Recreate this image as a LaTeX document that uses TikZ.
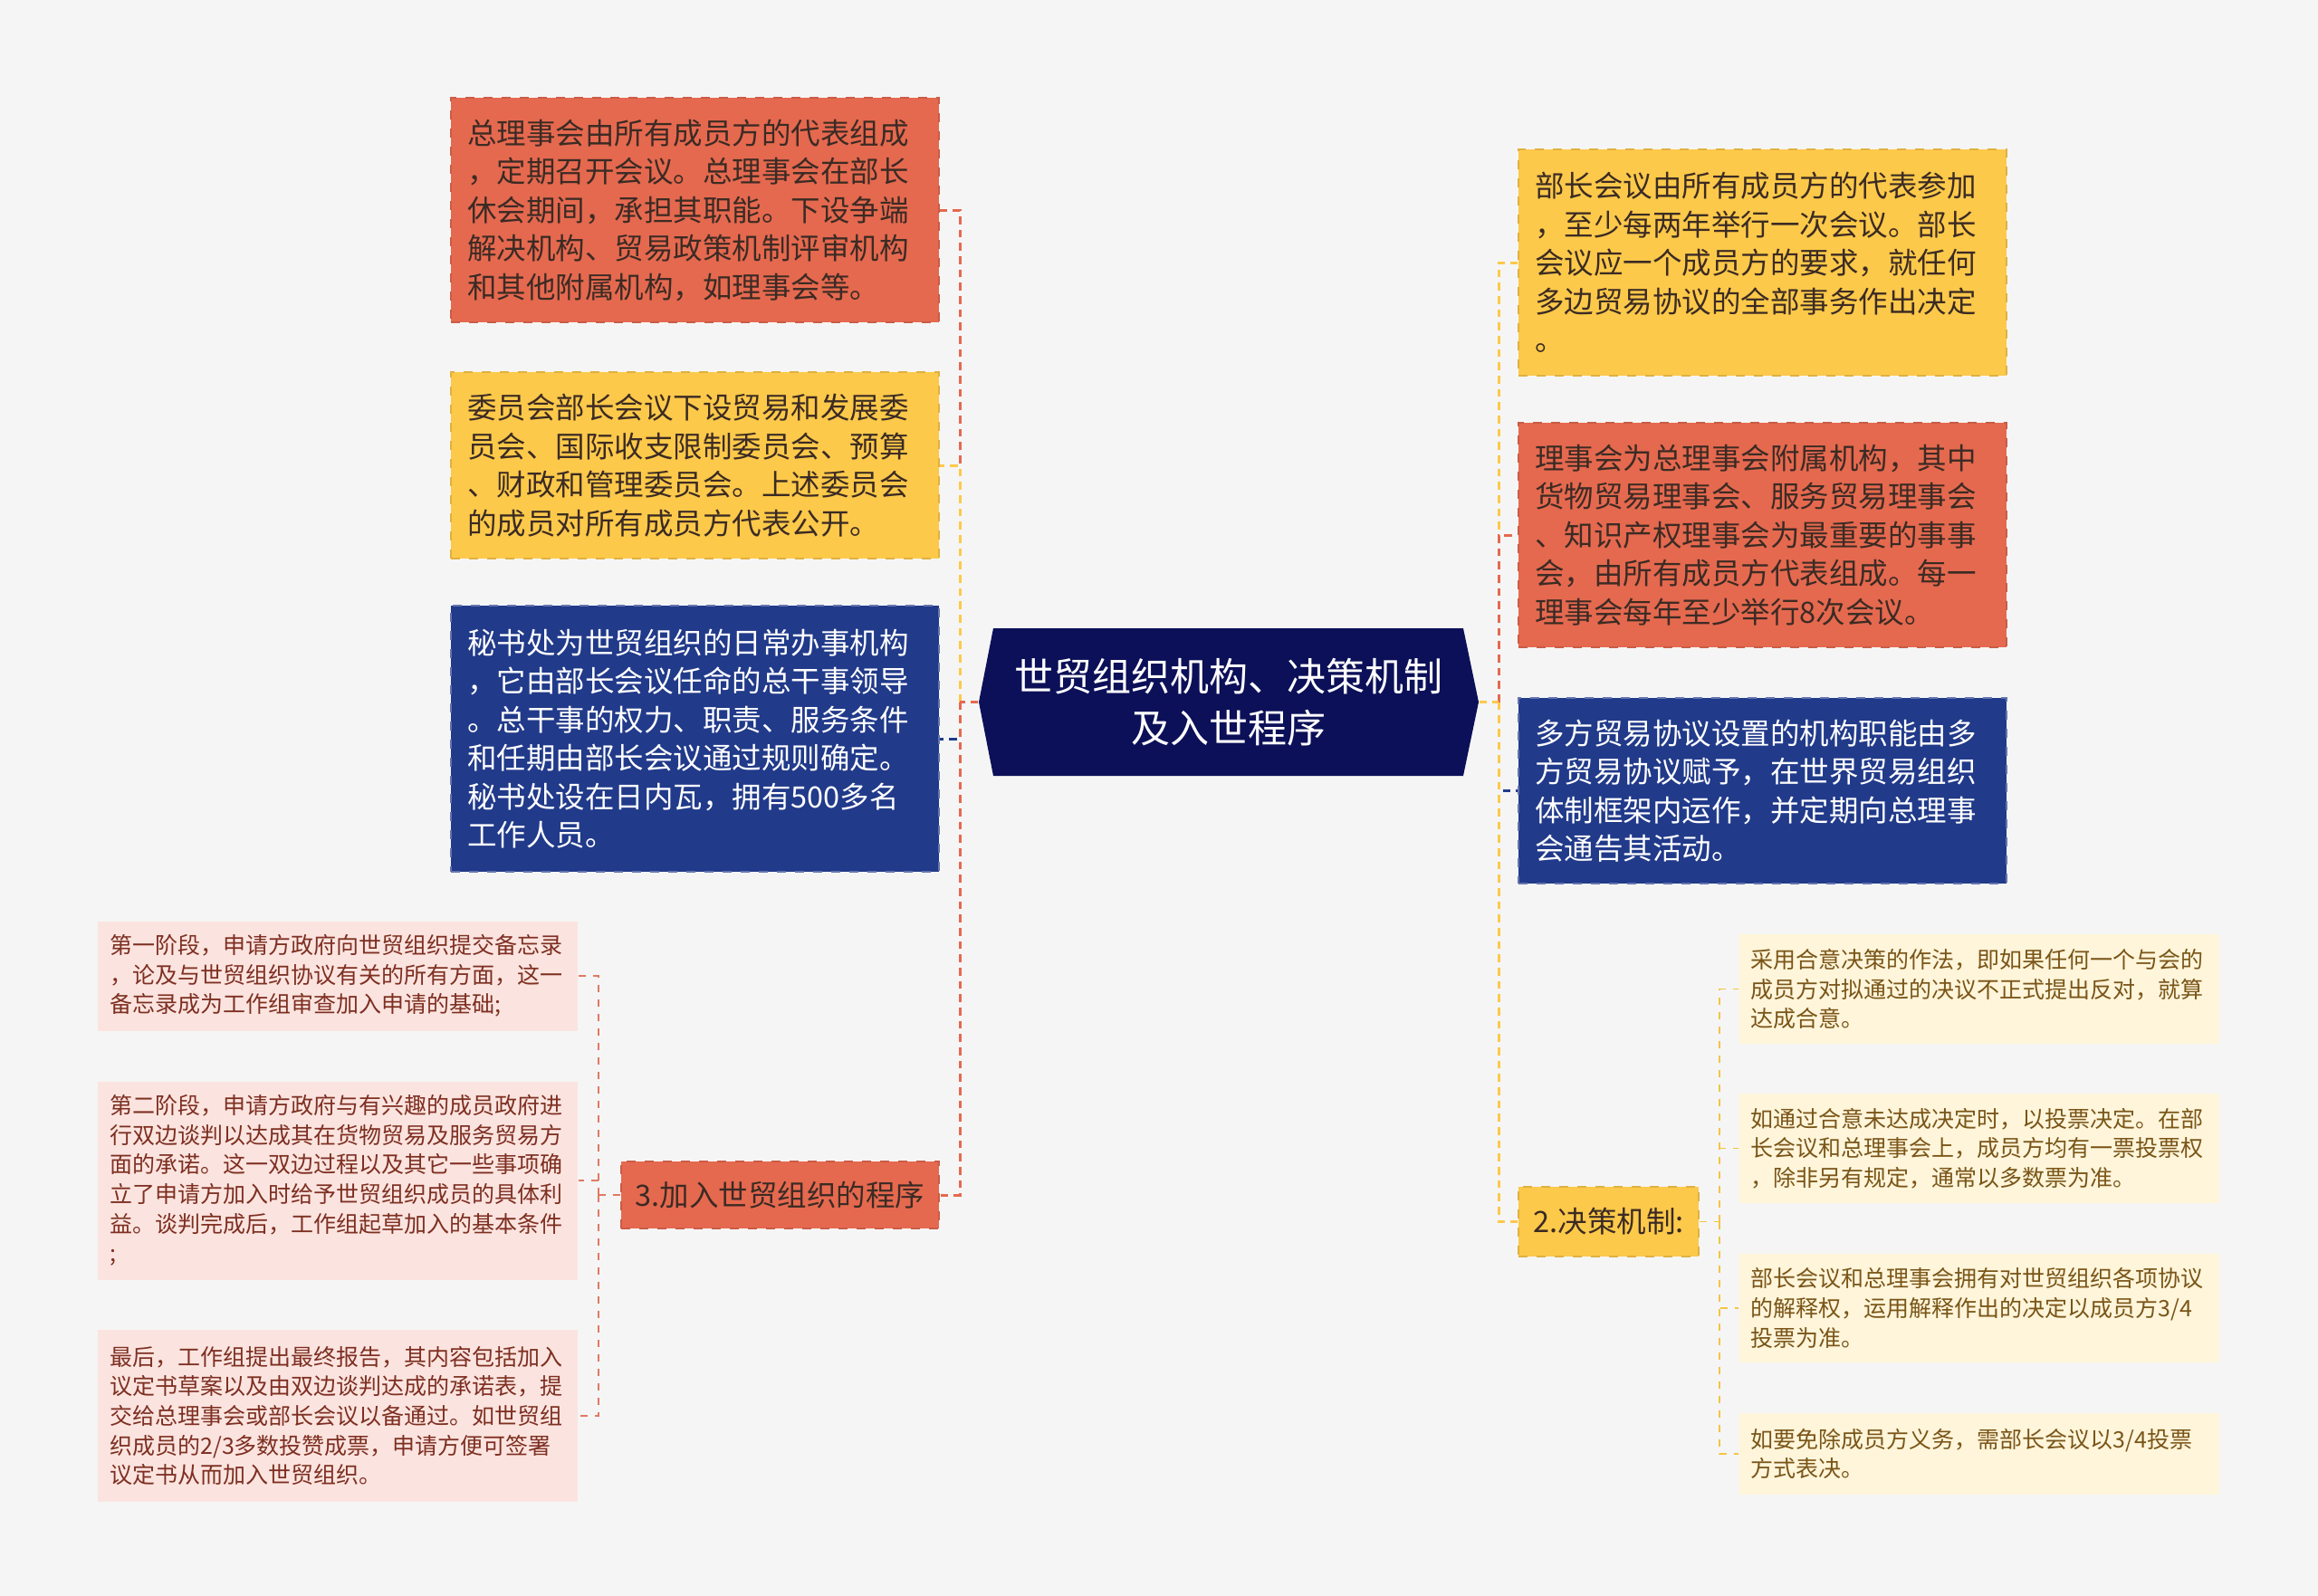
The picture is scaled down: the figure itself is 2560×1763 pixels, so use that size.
\documentclass[tikz,border=0pt]{standalone}
\usepackage{fontspec}
\setmainfont{Noto Sans CJK SC}
\usetikzlibrary{calc}
\definecolor{bg}{HTML}{F5F5F5}
\definecolor{cred}{HTML}{E5694F}
\definecolor{cyel}{HTML}{FDC94A}
\definecolor{cblue}{HTML}{213A8A}
\definecolor{cnavy}{HTML}{0C1058}
\definecolor{cpink}{HTML}{FBE4DF}
\definecolor{cpale}{HTML}{FEF5DA}
\definecolor{tdark}{HTML}{3B2B24}
\definecolor{tpink}{HTML}{7E2F22}
\definecolor{tpale}{HTML}{7A5518}
\definecolor{lred}{HTML}{E07A62}
\definecolor{lyel}{HTML}{F5C444}
\begin{document}
\begin{tikzpicture}[x=0.3pt,y=-0.3pt,
  bigbox/.style={rectangle, minimum width=161.7pt, text width=150.9pt, inner xsep=5.4pt, inner ysep=0pt, align=left, font=\fontsize{9.75pt}{12.75pt}\selectfont, dashed, line width=0.7pt},
  redbox/.style={bigbox, fill=cred, draw=cred!88!black, text=tdark},
  yelbox/.style={bigbox, fill=cyel, draw=cyel!88!black, text=tdark},
  bluebox/.style={bigbox, fill=cblue, draw=cblue!70!white, text=white},
  lblbox/.style={rectangle, inner sep=0pt, align=center, font=\fontsize{9.75pt}{12.75pt}\selectfont, dashed, line width=0.7pt, text=tdark},
  smallbox/.style={rectangle, minimum width=159pt, text width=151pt, inner xsep=4pt, inner ysep=0pt, align=left, font=\fontsize{7.5pt}{9.8pt}\selectfont},
  pinkbox/.style={smallbox, fill=cpink, text=tpink},
  palebox/.style={smallbox, fill=cpale, text=tpale},
  conn/.style={line width=0.9pt, dash pattern=on 2.6pt off 1.8pt},
  thinconn/.style={line width=0.45pt, dash pattern=on 2.4pt off 2.4pt}
]
\fill[bg] (0,0) rectangle (2560,1763);
\useasboundingbox (0,0) rectangle (2560,1763);

% centre
\fill[cnavy] (1097,694) -- (1616,694) -- (1633,775.5) -- (1616,857) -- (1097,857) -- (1081,775.5) -- cycle;
\node[rectangle, minimum width=165.6pt, minimum height=48.9pt, inner sep=0pt, align=center, text=white, font=\fontsize{12.9pt}{17pt}\selectfont] (c) at (1357,775.5) {世贸组织机构、决策机制\\及入世程序};

% left branch
\node[redbox, minimum height=74.4pt] (L1) at (767.5,232) {总理事会由所有成员方的代表组成\\，定期召开会议。总理事会在部长\\休会期间，承担其职能。下设争端\\解决机构、贸易政策机制评审机构\\和其他附属机构，如理事会等。};
\node[yelbox, minimum height=61.8pt] (L2) at (767.5,514) {委员会部长会议下设贸易和发展委\\员会、国际收支限制委员会、预算\\、财政和管理委员会。上述委员会\\的成员对所有成员方代表公开。};
\node[bluebox, minimum height=88.2pt] (L3) at (767.5,816) {秘书处为世贸组织的日常办事机构\\，它由部长会议任命的总干事领导\\。总干事的权力、职责、服务条件\\和任期由部长会议通过规则确定。\\秘书处设在日内瓦，拥有500多名\\工作人员。};
\node[lblbox, fill=cred, draw=cred!88!black, minimum width=105.3pt, minimum height=22.2pt] (L4) at (861.5,1320) {3.加入世贸组织的程序};

\node[pinkbox, minimum height=36.3pt] (P1) at (373,1078) {第一阶段，申请方政府向世贸组织提交备忘录\\，论及与世贸组织协议有关的所有方面，这一\\备忘录成为工作组审查加入申请的基础;};
\node[pinkbox, minimum height=65.7pt] (P2) at (373,1304) {第二阶段，申请方政府与有兴趣的成员政府进\\行双边谈判以达成其在货物贸易及服务贸易方\\面的承诺。这一双边过程以及其它一些事项确\\立了申请方加入时给予世贸组织成员的具体利\\益。谈判完成后，工作组起草加入的基本条件\\;};
\node[pinkbox, minimum height=57pt] (P3) at (373,1564) {最后，工作组提出最终报告，其内容包括加入\\议定书草案以及由双边谈判达成的承诺表，提\\交给总理事会或部长会议以备通过。如世贸组\\织成员的2/3多数投赞成票，申请方便可签署\\议定书从而加入世贸组织。};

% right branch
\node[yelbox, minimum height=75pt] (R1) at (1946.5,290) {部长会议由所有成员方的代表参加\\，至少每两年举行一次会议。部长\\会议应一个成员方的要求，就任何\\多边贸易协议的全部事务作出决定\\。};
\node[redbox, minimum height=74.4pt] (R2) at (1946.5,591) {理事会为总理事会附属机构，其中\\货物贸易理事会、服务贸易理事会\\、知识产权理事会为最重要的事事\\会，由所有成员方代表组成。每一\\理事会每年至少举行8次会议。};
\node[bluebox, minimum height=61.5pt] (R3) at (1946.5,873.5) {多方贸易协议设置的机构职能由多\\方贸易协议赋予，在世界贸易组织\\体制框架内运作，并定期向总理事\\会通告其活动。};
\node[lblbox, fill=cyel, draw=cyel!88!black, minimum width=59.7pt, minimum height=23.1pt] (R4) at (1776.5,1349.5) {2.决策机制:};

\node[palebox, minimum height=36.3pt] (D1) at (2185.5,1092.5) {采用合意决策的作法，即如果任何一个与会的\\成员方对拟通过的决议不正式提出反对，就算\\达成合意。};
\node[palebox, minimum height=36.3pt] (D2) at (2185.5,1268.5) {如通过合意未达成决定时，以投票决定。在部\\长会议和总理事会上，成员方均有一票投票权\\，除非另有规定，通常以多数票为准。};
\node[palebox, minimum height=36pt] (D3) at (2185.5,1445) {部长会议和总理事会拥有对世贸组织各项协议\\的解释权，运用解释作出的决定以成员方3/4\\投票为准。};
\node[palebox, minimum height=27pt] (D4) at (2185.5,1606) {如要免除成员方义务，需部长会议以3/4投票\\方式表决。};

% trunk points
\coordinate (lt) at (1060,775.5);
\coordinate (rt) at (1655,775.5);
\coordinate (pt) at (661,1320);
\coordinate (dt) at (1899,1349.5);

% left connectors
\draw[conn, cblue] (lt) |- (L3.east);
\draw[conn, cred] (lt) |- (L4.east);
\draw[conn, cred] (lt) |- (L1.east);
\draw[conn, cyel] (lt) |- (L2.east);
\draw[conn, cred] (c.west) -- (lt);

% right connectors
\draw[conn, cblue] (rt) |- (R3.west);
\draw[conn, cyel] (rt) |- (R4.west);
\draw[conn, cyel] (rt) |- (R1.west);
\draw[conn, cred] (rt) |- (R2.west);
\draw[conn, cyel] (c.east) -- (rt);

% sub connectors
\draw[thinconn, lred] (L4.west) -- (pt);
\draw[thinconn, lred] (pt) |- (P1.east);
\draw[thinconn, lred] (pt) |- (P2.east);
\draw[thinconn, lred] (pt) |- (P3.east);
\draw[thinconn, lyel] (R4.east) -- (dt);
\draw[thinconn, lyel] (dt) |- (D1.west);
\draw[thinconn, lyel] (dt) |- (D2.west);
\draw[thinconn, lyel] (dt) |- (D3.west);
\draw[thinconn, lyel] (dt) |- (D4.west);
\end{tikzpicture}
\end{document}
